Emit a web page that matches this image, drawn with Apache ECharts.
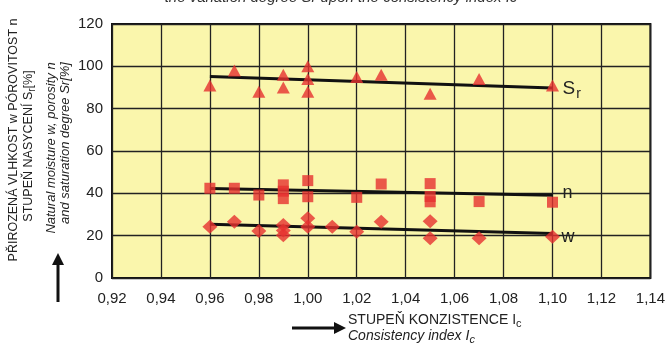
<!DOCTYPE html>
<html><head><meta charset="utf-8">
<script src="https://cdn.jsdelivr.net/npm/echarts@6/dist/echarts.min.js"></script>
<style>html,body{margin:0;padding:0;background:#fff}#c{width:668px;height:348px}</style>
</head><body><div id="c"></div>
<script>
// Data
const srPoints = [[0.96,91],[0.97,98],[0.98,88],[0.99,96],[0.99,90],[1.00,100],[1.00,94],[1.00,88],[1.02,95],[1.03,96],[1.05,87],[1.07,94],[1.10,91]];
const nPoints  = [[0.96,42.4],[0.97,42.4],[0.98,39.2],[0.99,44],[0.99,41],[0.99,37.5],[1.00,46],[1.00,38.4],[1.02,38.1],[1.03,44.4],[1.05,44.6],[1.05,38.5],[1.05,36],[1.07,36.1],[1.10,35.8]];
const wPoints  = [[0.96,24.2],[0.97,26.6],[0.98,22.2],[0.99,25],[0.99,22.5],[0.99,20.2],[1.00,28.2],[1.00,24.2],[1.01,24.2],[1.02,21.9],[1.03,26.6],[1.05,26.8],[1.05,18.8],[1.07,18.8],[1.10,19.5]];
const trendX   = [0.96, 1.10];
const srTrend  = [95.2, 89.8];
const nTrend   = [42.3, 39.1];
const wTrend   = [25.4, 21.0];
const xMin = 0.92, xMax = 1.14, xStep = 0.02;
const yMin = 0, yMax = 120, yStep = 20;

const RED = '#E6312F';
const FONT = 'Liberation Sans, Arial, sans-serif';
function trendLine(vals, labelText, dx, dy){
  return {type:'line', data:trendX.map((x,i)=>[x, vals[i]]), symbol:'none',
    lineStyle:{color:'#111', width:3}, z:3,
    endLabel:{show:true, formatter:labelText, offset:[dx,dy], distance:4,
      color:'#222', fontFamily:FONT, fontSize:18,
      rich:{s:{fontSize:19,color:'#222',fontFamily:FONT}, sub:{fontSize:14,color:'#222',fontFamily:FONT, padding:[10,0,0,1]}}}};
}
const chart = echarts.init(document.getElementById('c'), null, {renderer:'canvas'});
chart.setOption({
  animation:false,
  backgroundColor:'#fff',
  grid:{left:112, right:14, top:24, bottom:70, show:true, backgroundColor:'#FAF6AC', borderColor:'#111', borderWidth:2},
  xAxis:{type:'value', min:xMin, max:xMax, interval:xStep,
    axisLine:{show:false}, axisTick:{show:false},
    splitLine:{show:true, lineStyle:{color:'#222', width:1.3}},
    axisLabel:{margin:13, fontSize:15, color:'#222', fontFamily:FONT,
      formatter:v=>v.toFixed(2).replace('.',','), showMaxLabel:true, showMinLabel:true}},
  yAxis:{type:'value', min:yMin, max:yMax, interval:yStep,
    axisLine:{show:false}, axisTick:{show:false},
    splitLine:{show:true, lineStyle:{color:'#222', width:1.3}},
    axisLabel:{margin:9, fontSize:15, color:'#222', fontFamily:FONT}},
  series:[
    trendLine(srTrend,'{s|S}{sub|r}',6,1),
    trendLine(nTrend,'n',6,-2),
    trendLine(wTrend,'w',5,3),
    {type:'scatter', data:srPoints, symbol:'triangle', symbolSize:[13,12], itemStyle:{color:RED}, z:4},
    {type:'scatter', data:nPoints, symbol:'rect', symbolSize:11, itemStyle:{color:RED}, z:4},
    {type:'scatter', data:wPoints, symbol:'diamond', symbolSize:[15,14], itemStyle:{color:RED}, z:4}
  ],
  graphic:[
    {type:'text', x:341, y:-2, style:{text:'the variation degree Sr upon the consistency index Ic', font:'italic 15px '+FONT, fill:'#333', align:'center', verticalAlign:'middle'}},
    {type:'text', x:348, y:320, style:{text:'STUPEŇ KONZISTENCE I{sub|c}', font:'14px '+FONT, fill:'#222', align:'left', verticalAlign:'middle',
      rich:{sub:{fontSize:11, fill:'#222', fontFamily:FONT, padding:[7,0,0,0]}}}},
    {type:'text', x:348, y:336, style:{text:'Consistency index I{sub|c}', font:'italic 14px '+FONT, fill:'#222', align:'left', verticalAlign:'middle',
      rich:{sub:{fontSize:11, fontStyle:'italic', fill:'#222', fontFamily:FONT, padding:[7,0,0,0]}}}},
    {type:'line', shape:{x1:292, y1:328, x2:336, y2:328}, style:{stroke:'#111', lineWidth:3}},
    {type:'polygon', shape:{points:[[334,322],[346,328],[334,334]]}, style:{fill:'#111'}},
    {type:'line', shape:{x1:58, y1:302, x2:58, y2:262}, style:{stroke:'#111', lineWidth:3}},
    {type:'polygon', shape:{points:[[52,265],[58,253],[64,265]]}, style:{fill:'#111'}},
    {type:'text', x:14, y:140, rotation:Math.PI/2, style:{text:'PŘIROZENÁ VLHKOST w PÓROVITOST n', font:'12.5px '+FONT, fill:'#222', align:'center', verticalAlign:'middle'}},
    {type:'text', x:29, y:146, rotation:Math.PI/2, style:{text:'STUPEŇ NASYCENÍ S{sub|r}[%]', font:'12.5px '+FONT, fill:'#222', align:'center', verticalAlign:'middle',
      rich:{sub:{fontSize:10, fill:'#222', fontFamily:FONT, padding:[6,0,0,0]}}}},
    {type:'text', x:51, y:148, rotation:Math.PI/2, style:{text:'Natural moisture w, porosity n', font:'italic 13px '+FONT, fill:'#222', align:'center', verticalAlign:'middle'}},
    {type:'text', x:65, y:143, rotation:Math.PI/2, style:{text:'and saturation degree Sr[%]', font:'italic 13px '+FONT, fill:'#222', align:'center', verticalAlign:'middle'}}
  ]
});
</script></body></html>
